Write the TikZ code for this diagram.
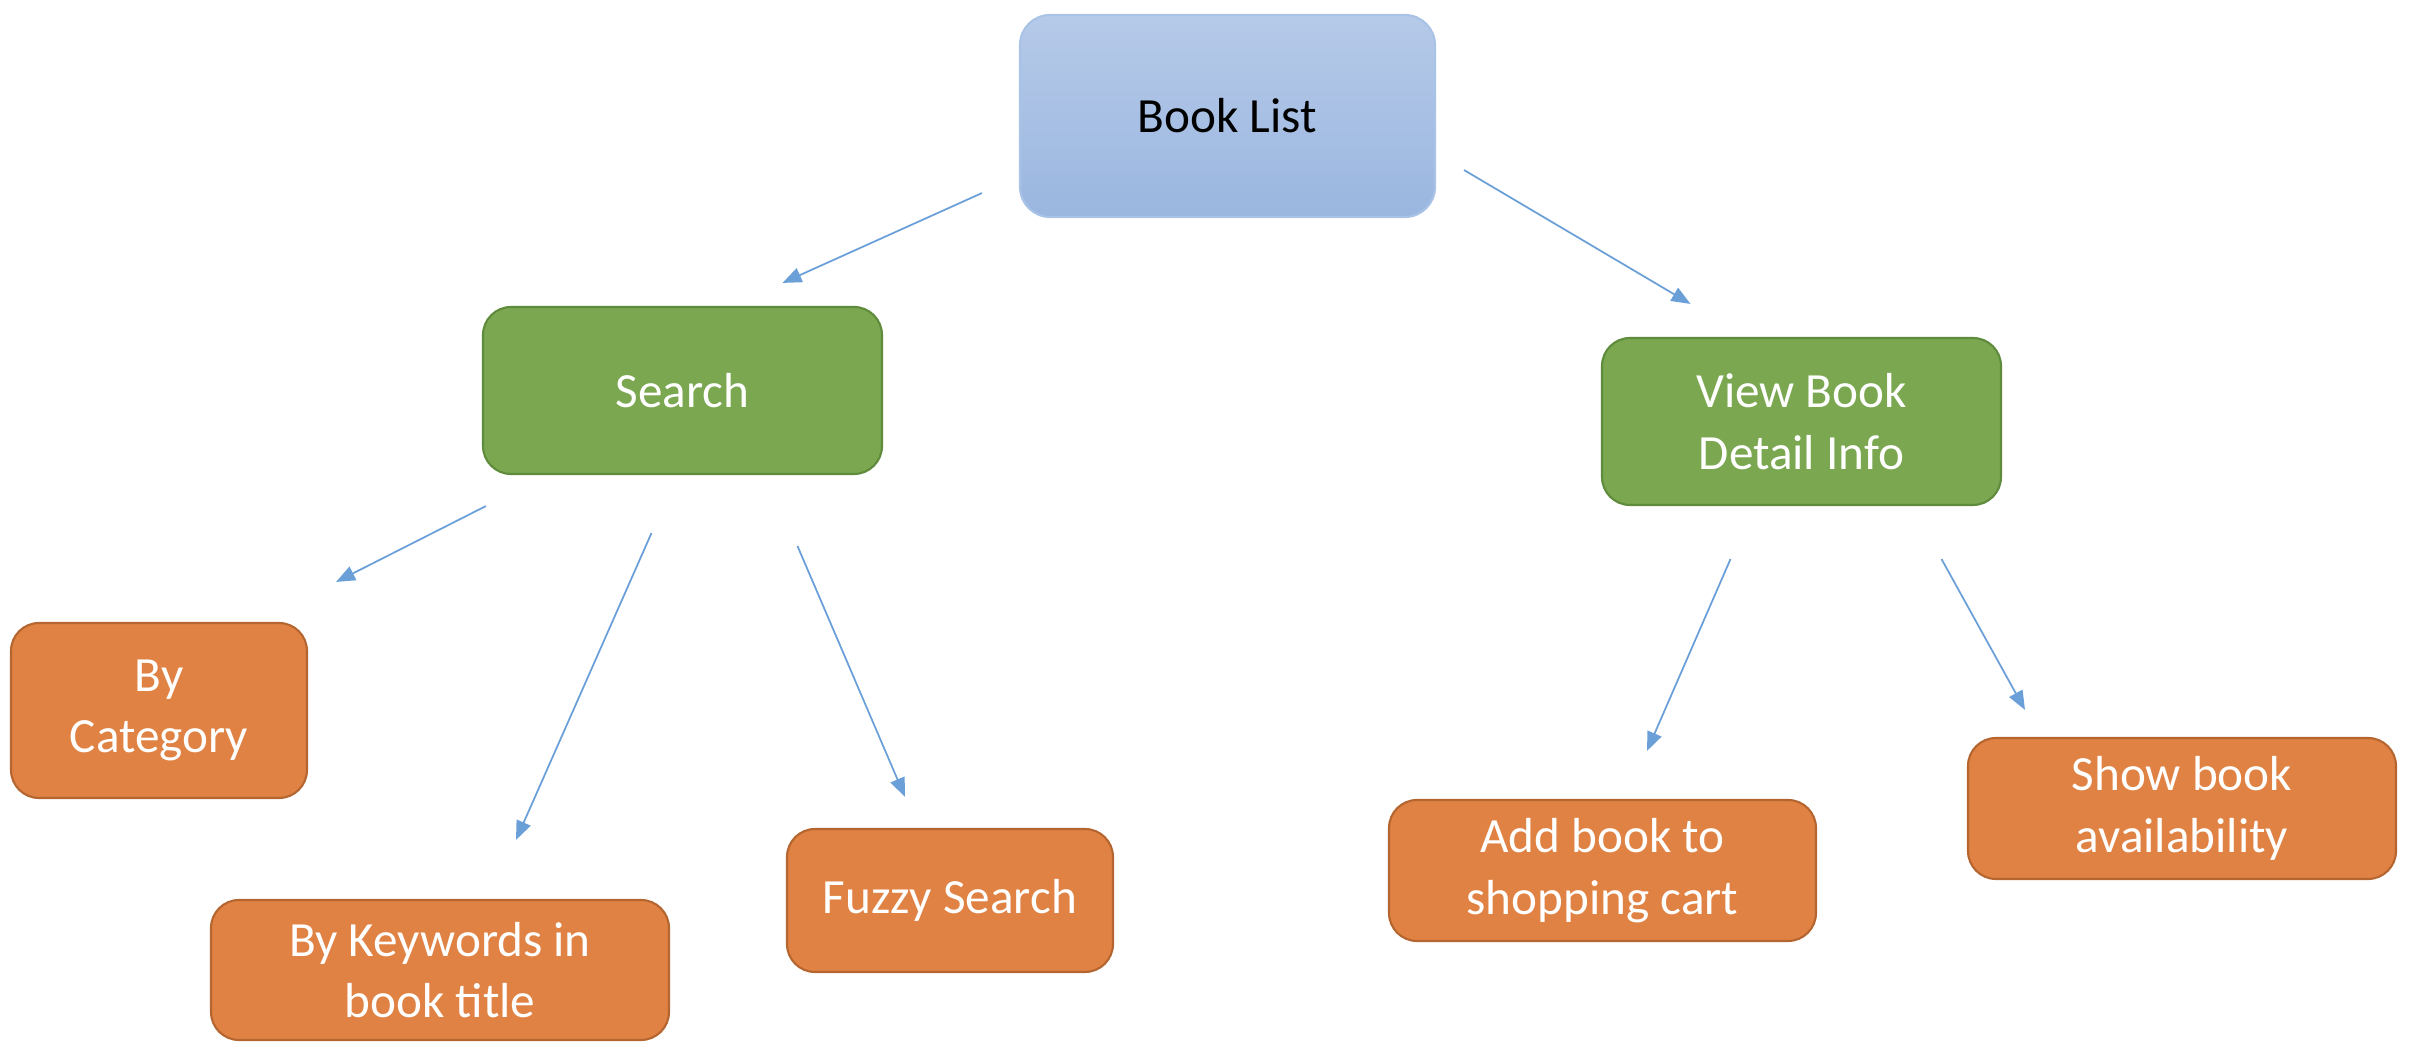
\documentclass[tikz,border=0pt]{standalone}
\usepackage{fontspec}
\setmainfont{Carlito}
\usetikzlibrary{positioning,arrows.meta,calc}
\definecolor{bltop}{HTML}{B6CAE9}
\definecolor{blbot}{HTML}{9AB6DF}
\definecolor{blline}{HTML}{A9C3E6}
\definecolor{grn}{HTML}{7BA751}
\definecolor{grnline}{HTML}{5F8B3C}
\definecolor{org}{HTML}{E08243}
\definecolor{orgline}{HTML}{B5652F}
\definecolor{arblue}{HTML}{6A9FD8}
\tikzset{
  box/.style={rounded corners=2.8mm, inner sep=0pt, align=center, line width=0.6pt,
              font=\fontsize{14}{17.5}\selectfont},
  head/.style={box, rounded corners=3mm, top color=bltop, bottom color=blbot, draw=blline, text=black},
  task/.style={box, fill=grn, draw=grnline, text=white},
  leaf/.style={box, fill=org, draw=orgline, text=white},
  ar/.style={-{Triangle[length=1.9mm, width=1.5mm]}, color=arblue, line width=0.5pt},
}

\begin{document}
\begin{tikzpicture}[x=0.1mm, y=-0.1mm]
\useasboundingbox (0,0) rectangle (2430,1062);

% --- TOP ---
\node[head, minimum width=41.5mm, minimum height=20.2mm] (blist) at (1227.5,116) {Book List};

% --- SECOND ROW ---
\node[task, minimum width=39.9mm, minimum height=16.7mm] (search) at (682.5,390.5) {Search};
\node[task, minimum width=39.9mm, minimum height=16.7mm] (view) at (1801.5,421.5) {View Book\\Detail Info};

% --- LEAVES ---
\node[leaf, minimum width=29.6mm, minimum height=17.5mm] (cat) at (159,710.5) {By\\Category};
\node[leaf, minimum width=45.8mm, minimum height=14mm] (kw) at (440,970) {By Keywords in\\book title};
\node[leaf, minimum width=32.6mm, minimum height=14.3mm] (fuzzy) at (950,900.5) {Fuzzy Search};
\node[leaf, minimum width=42.7mm, minimum height=14.1mm] (cart) at (1602.5,870.5) {Add book to\\shopping cart};
\node[leaf, minimum width=42.8mm, minimum height=14.1mm] (avail) at (2182,808.5) {Show book\\availability};

% arrows stop short of the boxes
\draw[ar] ($(blist.south west)+(-37,-25)$) -- ($(search.north)+(100,-23)$);
\draw[ar] ($(blist.south east)+(28,-48)$) -- ($(view.north)+(-111,-33)$);
\draw[ar] ($(search.south west)+(4,31)$) -- ($(cat.north east)+(28,-40)$);
\draw[ar] ($(search.south)+(-31,58)$) -- ($(kw.north)+(76,-59)$);
\draw[ar] ($(search.south)+(115,71)$) -- ($(fuzzy.north)+(-45,-31)$);
\draw[ar] ($(view.south)+(-71,53)$) -- ($(cart.north)+(44.5,-48)$);
\draw[ar] ($(view.south)+(140,53)$) -- ($(avail.north)+(-157,-27)$);

\end{tikzpicture}
\end{document}
